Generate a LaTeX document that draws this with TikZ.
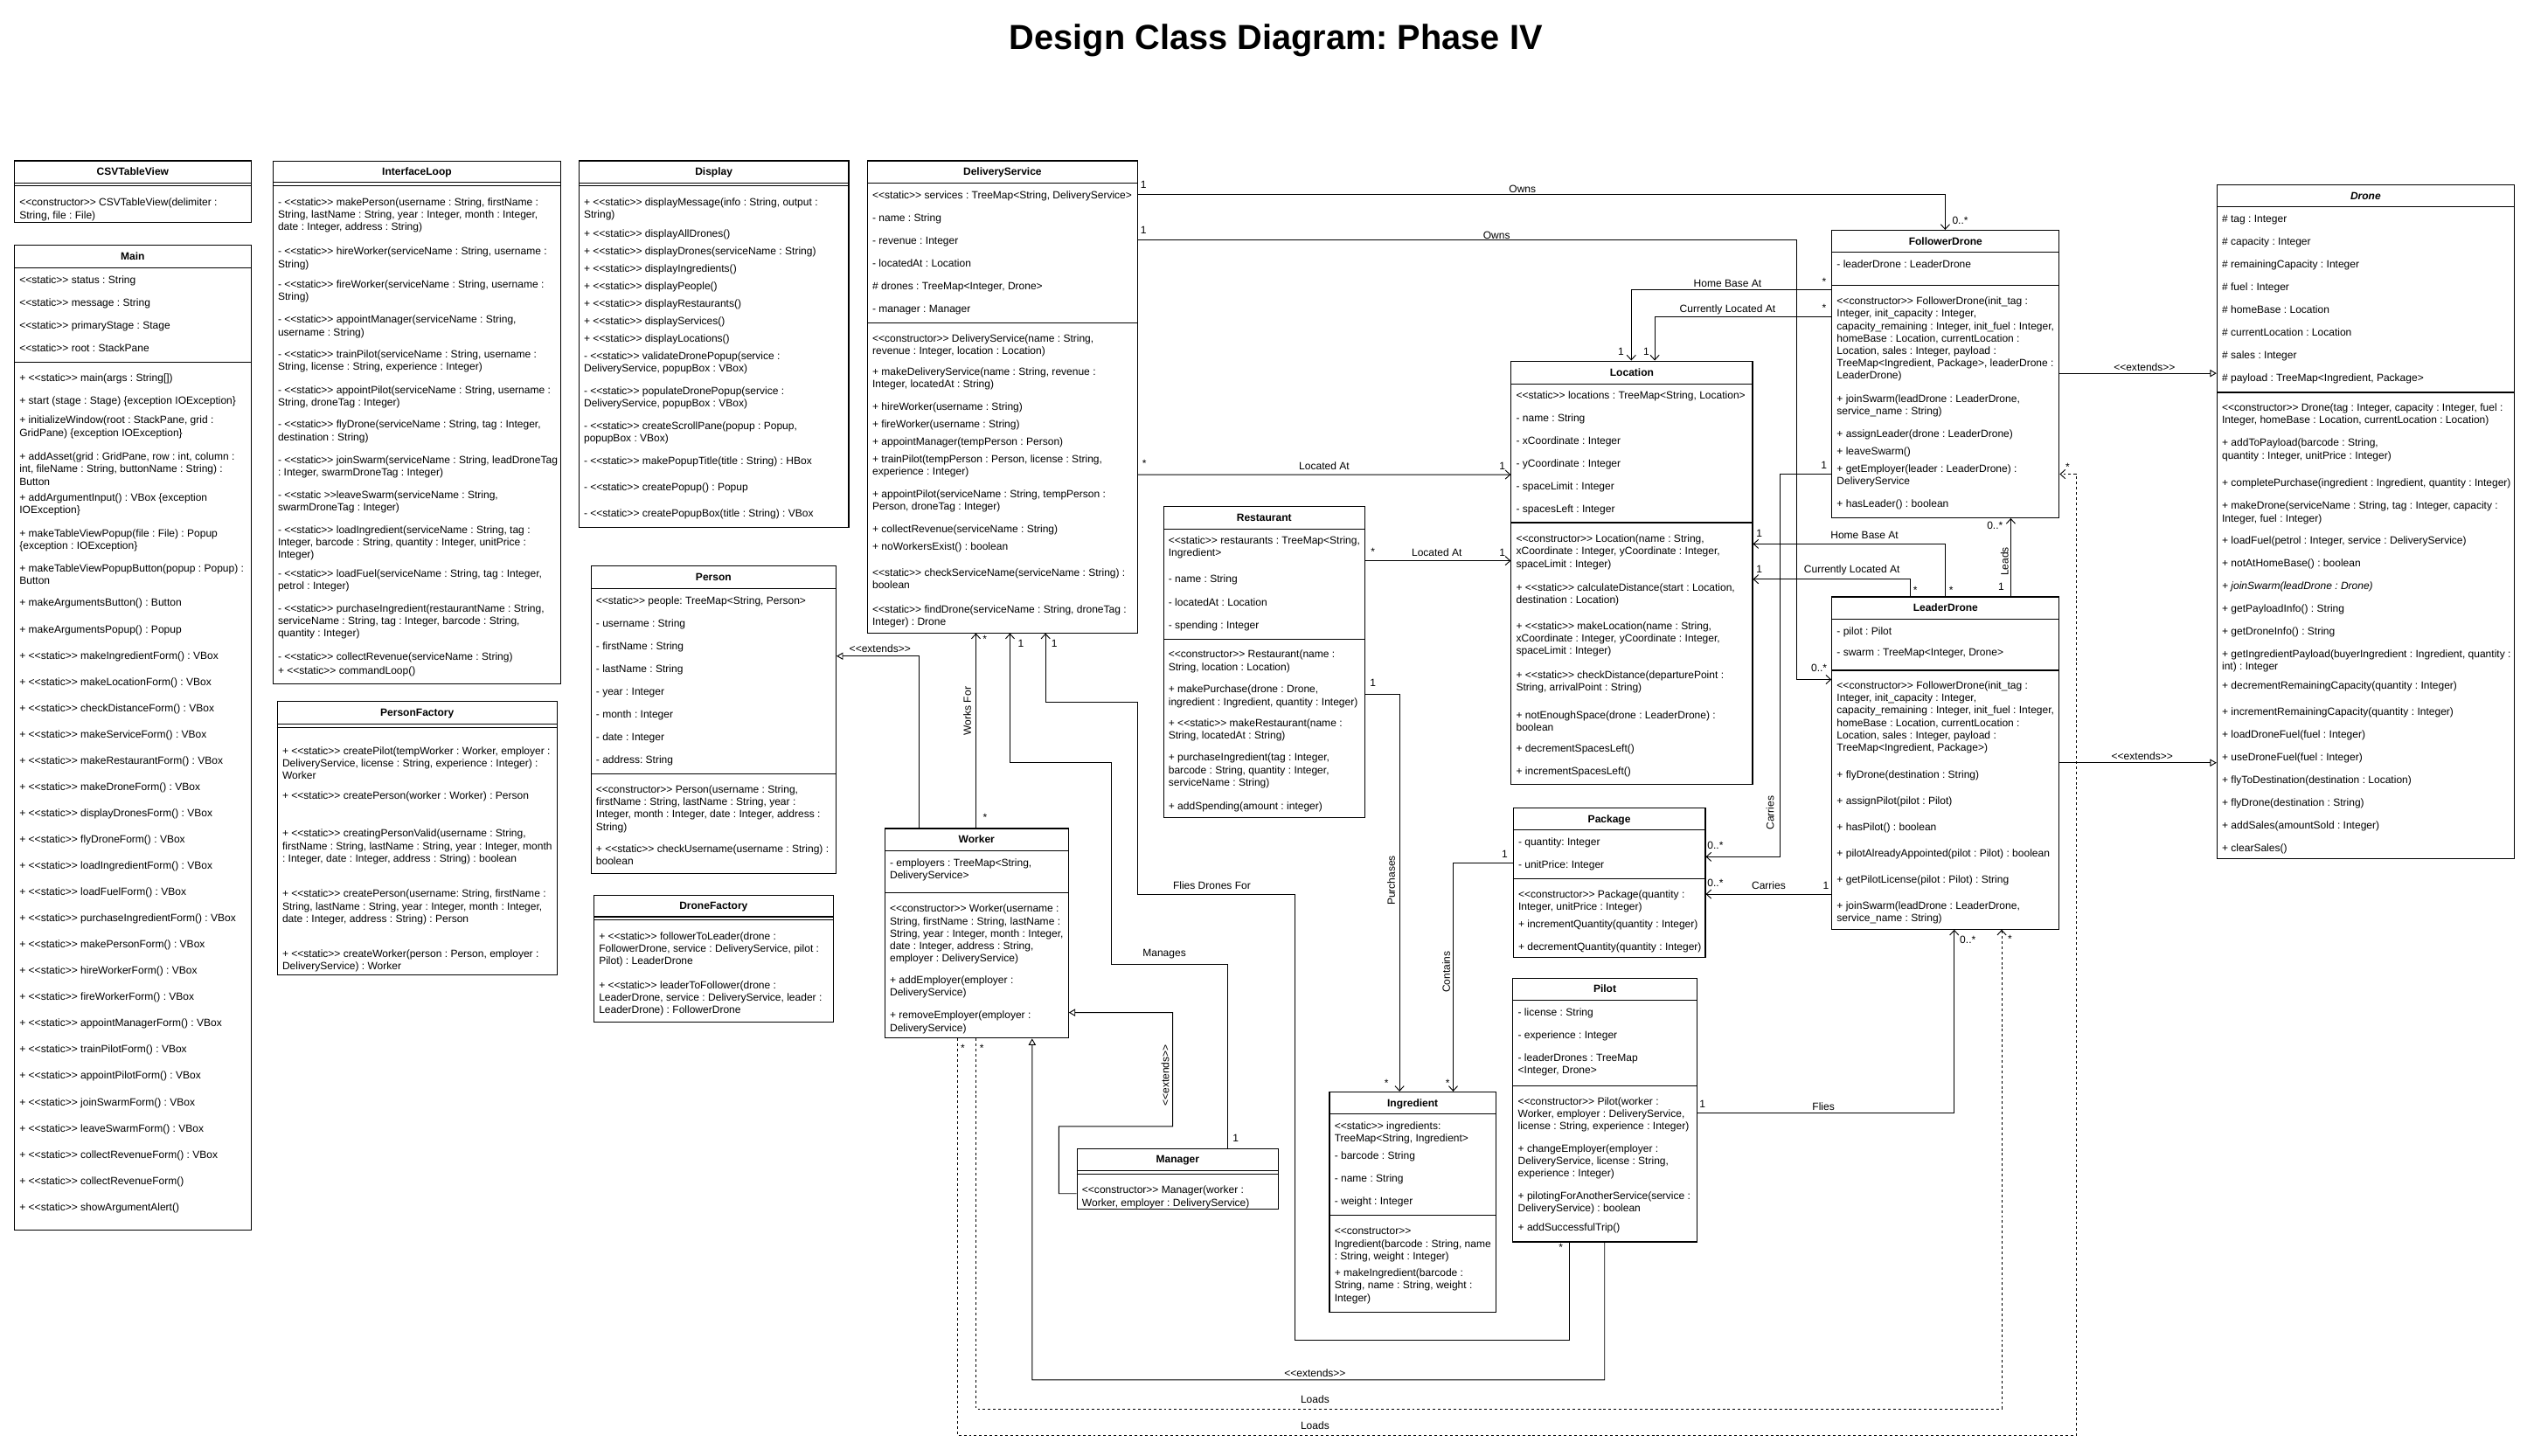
\documentclass[tikz,border=0pt]{standalone}
\usepackage{fontspec}
\setmainfont{Liberation Sans}[Ligatures=TeXOff]
\usepackage{tikz}
\usetikzlibrary{arrows.meta, positioning}
\frenchspacing
\newcommand{\umlfont}{\fontsize{6.5}{7.7}\selectfont}
\tikzset{
    classbox/.style={rectangle, draw=black, line width=0.6pt, fill=white, anchor=north west, inner sep=0pt},
    classname/.style={font=\umlfont\bfseries, inner sep=0pt, text height=4.7pt, text depth=0pt},
    members/.style={anchor=north west, align=left, inner xsep=3.2pt, inner ysep=0pt, font=\umlfont},
    divider/.style={line width=0.6pt},
    assoc/.style={line width=0.5pt, -{Straight Barb[length=3pt, width=5.5pt]}},
    extends/.style={line width=0.5pt, -{Triangle[open, length=4pt, width=4.5pt]}},
    loads/.style={assoc, dash pattern=on 1.6pt off 1.6pt},
    edgelabel/.style={font=\umlfont, inner sep=0.5pt}
}
\begin{document}
\begin{tikzpicture}[x=1pt, y=-1pt]
    \useasboundingbox (0,0) rectangle (1563.5,901);

    \node[font=\fontsize{21.5}{25}\selectfont\bfseries] (title) at (789.5,25) {Design Class Diagram: Phase IV};

    % CSVTableView
    \node[classbox, minimum width=146.3pt, minimum height=38pt] (csv) at (8.7,99.2) {};
    \draw[divider] ([yshift=-13.9pt]csv.north west) -- ([yshift=-13.9pt]csv.north east);
    \draw[divider] ([yshift=-15.8pt]csv.north west) -- ([yshift=-15.8pt]csv.north east);
    \node[classname] (csv-name) at ([yshift=-6.95pt]csv.north) {CSVTableView};
    \node[members] (csv-ops) at ([yshift=-22.8pt]csv.north west) {\strut<<constructor>> CSVTableView(delimiter :\\String, file : File)};

    % Main
    \node[classbox, minimum width=146.3pt, minimum height=609.3pt] (main) at (8.7,151.5) {};
    \draw[divider] ([yshift=-14.4pt]main.north west) -- ([yshift=-14.4pt]main.north east);
    \draw[divider] ([yshift=-72.5pt]main.north west) -- ([yshift=-72.5pt]main.north east);
    \node[classname] (main-name) at ([yshift=-7.2pt]main.north) {Main};
    \node[members] (main-attr) at ([yshift=-18.5pt]main.north west) {\strut<<static>> status : String\\[6.3pt]<<static>> message : String\\[6.3pt]<<static>> primaryStage : Stage\\[6.3pt]<<static>> root : StackPane};
    \node[members] (main-ops) at ([yshift=-79.1pt]main.north west) {\strut+ <<static>> main(args : String[])\\[6.3pt]
        + start (stage : Stage) \{exception IOException\}\\[4.4pt]
        + initializeWindow(root : StackPane, grid :\\GridPane) \{exception IOException\}\\[7.1pt]
        + addAsset(grid : GridPane, row : int, column :\\int, fileName : String, buttonName : String) :\\Button\\[2.4pt]
        + addArgumentInput() : VBox \{exception\\IOException\}\\[6.6pt]
        + makeTableViewPopup(file : File) : Popup\\\{exception : IOException\}\\[6.2pt]
        + makeTableViewPopupButton(popup : Popup) :\\Button\\[5.9pt]
        + makeArgumentsButton() : Button\\[8.9pt]
        + makeArgumentsPopup() : Popup\\[8.4pt]
        + <<static>> makeIngredientForm() : VBox\\[8.55pt]
        + <<static>> makeLocationForm() : VBox\\[8.55pt]
        + <<static>> checkDistanceForm() : VBox\\[8.55pt]
        + <<static>> makeServiceForm() : VBox\\[8.55pt]
        + <<static>> makeRestaurantForm() : VBox\\[8.55pt]
        + <<static>> makeDroneForm() : VBox\\[8.55pt]
        + <<static>> displayDronesForm() : VBox\\[8.55pt]
        + <<static>> flyDroneForm() : VBox\\[8.55pt]
        + <<static>> loadIngredientForm() : VBox\\[8.55pt]
        + <<static>> loadFuelForm() : VBox\\[8.55pt]
        + <<static>> purchaseIngredientForm() : VBox\\[8.55pt]
        + <<static>> makePersonForm() : VBox\\[8.55pt]
        + <<static>> hireWorkerForm() : VBox\\[8.55pt]
        + <<static>> fireWorkerForm() : VBox\\[8.55pt]
        + <<static>> appointManagerForm() : VBox\\[8.55pt]
        + <<static>> trainPilotForm() : VBox\\[8.55pt]
        + <<static>> appointPilotForm() : VBox\\[8.55pt]
        + <<static>> joinSwarmForm() : VBox\\[8.55pt]
        + <<static>> leaveSwarmForm() : VBox\\[8.55pt]
        + <<static>> collectRevenueForm() : VBox\\[8.55pt]
        + <<static>> collectRevenueForm()\\[8.55pt]
        + <<static>> showArgumentAlert()};

    % InterfaceLoop
    \node[classbox, minimum width=178.1pt, minimum height=323.3pt] (iloop) at (168.6,99.4) {};
    \draw[divider] ([yshift=-13.6pt]iloop.north west) -- ([yshift=-13.6pt]iloop.north east);
    \draw[divider] ([yshift=-15.5pt]iloop.north west) -- ([yshift=-15.5pt]iloop.north east);
    \node[classname] (iloop-name) at ([yshift=-6.8pt]iloop.north) {InterfaceLoop};
    \node[members] (iloop-ops) at ([yshift=-22.2pt]iloop.north west) {\strut- <<static>> makePerson(username : String, firstName :\\String, lastName : String, year : Integer, month : Integer,\\date : Integer, address : String)\\[7.5pt]
        - <<static>> hireWorker(serviceName : String, username :\\String)\\[5.1pt]
        - <<static>> fireWorker(serviceName : String, username :\\String)\\[6.4pt]
        - <<static>> appointManager(serviceName : String,\\username : String)\\[6pt]
        - <<static>> trainPilot(serviceName : String, username :\\String, license : String, experience : Integer)\\[6.5pt]
        - <<static>> appointPilot(serviceName : String, username :\\String, droneTag : Integer)\\[6.2pt]
        - <<static>> flyDrone(serviceName : String, tag : Integer,\\destination : String)\\[6.5pt]
        - <<static>> joinSwarm(serviceName : String, leadDroneTag\\: Integer, swarmDroneTag : Integer)\\[6.2pt]
        - <<static >>leaveSwarm(serviceName : String,\\swarmDroneTag : Integer)\\[6.2pt]
        - <<static>> loadIngredient(serviceName : String, tag :\\Integer, barcode : String, quantity : Integer, unitPrice :\\Integer)\\[4.1pt]
        - <<static>> loadFuel(serviceName : String, tag : Integer,\\petrol : Integer)\\[5.9pt]
        - <<static>> purchaseIngredient(restaurantName : String,\\serviceName : String, tag : Integer, barcode : String,\\quantity : Integer)\\[6.9pt]
        - <<static>> collectRevenue(serviceName : String)\\[0.9pt]
        + <<static>> commandLoop()};

    % PersonFactory
    \node[classbox, minimum width=173pt, minimum height=169.5pt] (pfact) at (171.3,433.5) {};
    \draw[divider] ([yshift=-14.7pt]pfact.north west) -- ([yshift=-14.7pt]pfact.north east);
    \draw[divider] ([yshift=-16.6pt]pfact.north west) -- ([yshift=-16.6pt]pfact.north east);
    \node[classname] (pfact-name) at ([yshift=-7.35pt]pfact.north) {PersonFactory};
    \node[members] (pfact-ops) at ([yshift=-27.9pt]pfact.north west) {\strut+ <<static>> createPilot(tempWorker : Worker, employer :\\DeliveryService, license : String, experience : Integer) :\\Worker\\[4.4pt]
        + <<static>> createPerson(worker : Worker) : Person\\[15.9pt]
        + <<static>> creatingPersonValid(username : String,\\firstName : String, lastName : String, year : Integer, month\\: Integer, date : Integer, address : String) : boolean\\[14.1pt]
        + <<static>> createPerson(username: String, firstName :\\String, lastName : String, year : Integer, month : Integer,\\date : Integer, address : String) : Person\\[14.2pt]
        + <<static>> createWorker(person : Person, employer :\\DeliveryService) : Worker};

    % Display
    \node[classbox, minimum width=166.9pt, minimum height=227.1pt] (disp) at (357.9,99.2) {};
    \draw[divider] ([yshift=-14pt]disp.north west) -- ([yshift=-14pt]disp.north east);
    \draw[divider] ([yshift=-15.9pt]disp.north west) -- ([yshift=-15.9pt]disp.north east);
    \node[classname] (disp-name) at ([yshift=-7pt]disp.north) {Display};
    \node[members] (disp-ops) at ([yshift=-22.7pt]disp.north west) {\strut+ <<static>> displayMessage(info : String, output :\\String)\\[3.9pt]
        + <<static>> displayAllDrones()\\[3.1pt]
        + <<static>> displayDrones(serviceName : String)\\[3.2pt]
        + <<static>> displayIngredients()\\[3.1pt]
        + <<static>> displayPeople()\\[3.1pt]
        + <<static>> displayRestaurants()\\[3.1pt]
        + <<static>> displayServices()\\[3.3pt]
        + <<static>> displayLocations()\\[3pt]
        - <<static>> validateDronePopup(service :\\DeliveryService, popupBox : VBox)\\[6.2pt]
        - <<static>> populateDronePopup(service :\\DeliveryService, popupBox : VBox)\\[6.2pt]
        - <<static>> createScrollPane(popup : Popup,\\popupBox : VBox)\\[6.2pt]
        - <<static>> makePopupTitle(title : String) : HBox\\[8.6pt]
        - <<static>> createPopup() : Popup\\[8.5pt]
        - <<static>> createPopupBox(title : String) : VBox};

    % Person
    \node[classbox, minimum width=151.6pt, minimum height=190.2pt] (per) at (365.4,350) {};
    \draw[divider] ([yshift=-14.3pt]per.north west) -- ([yshift=-14.3pt]per.north east);
    \draw[divider] ([yshift=-128.9pt]per.north west) -- ([yshift=-128.9pt]per.north east);
    \node[classname] (per-name) at ([yshift=-7.15pt]per.north) {Person};
    \node[members] (per-attr) at ([yshift=-18.6pt]per.north west) {\strut<<static>> people: TreeMap<String, Person>\\[6.3pt]- username : String\\[6.3pt]- firstName : String\\[6.3pt]- lastName : String\\[6.3pt]- year : Integer\\[6.3pt]- month : Integer\\[6.3pt]- date : Integer\\[6.3pt]- address: String};
    \node[members] (per-ops) at ([yshift=-135.1pt]per.north west) {\strut<<constructor>> Person(username : String,\\firstName : String, lastName : String, year :\\Integer, month : Integer, date : Integer, address :\\String)\\[5.9pt]
        + <<static>> checkUsername(username : String) :\\boolean};

    % DroneFactory
    \node[classbox, minimum width=148pt, minimum height=78.4pt] (dfact) at (367.2,553.6) {};
    \draw[divider] ([yshift=-13.7pt]dfact.north west) -- ([yshift=-13.7pt]dfact.north east);
    \draw[divider] ([yshift=-15.8pt]dfact.north west) -- ([yshift=-15.8pt]dfact.north east);
    \node[classname] (dfact-name) at ([yshift=-6.85pt]dfact.north) {DroneFactory};
    \node[members] (dfact-ops) at ([yshift=-22.3pt]dfact.north west) {\strut+ <<static>> followerToLeader(drone :\\FollowerDrone, service : DeliveryService, pilot :\\Pilot) : LeaderDrone\\[7.2pt]
        + <<static>> leaderToFollower(drone :\\LeaderDrone, service : DeliveryService, leader :\\LeaderDrone) : FollowerDrone};

    % DeliveryService
    \node[classbox, minimum width=167.1pt, minimum height=292.1pt] (ds) at (536.4,99.2) {};
    \draw[divider] ([yshift=-14pt]ds.north west) -- ([yshift=-14pt]ds.north east);
    \draw[divider] ([yshift=-100.4pt]ds.north west) -- ([yshift=-100.4pt]ds.north east);
    \node[classname] (ds-name) at ([yshift=-7pt]ds.north) {DeliveryService};
    \node[members] (ds-attr) at ([yshift=-18.2pt]ds.north west) {\strut<<static>> services : TreeMap<String, DeliveryService>\\[6.4pt]- name : String\\[6.4pt]- revenue : Integer\\[6.4pt]- locatedAt : Location\\[6.4pt]\# drones : TreeMap<Integer, Drone>\\[6.4pt]- manager : Manager};
    \node[members] (ds-ops) at ([yshift=-106.9pt]ds.north west) {\strut<<constructor>> DeliveryService(name : String,\\revenue : Integer, location : Location)\\[5.1pt]
        + makeDeliveryService(name : String, revenue :\\Integer, locatedAt : String)\\[6.4pt]
        + hireWorker(username : String)\\[2.9pt]
        + fireWorker(username : String)\\[3.2pt]
        + appointManager(tempPerson : Person)\\[3.2pt]
        + trainPilot(tempPerson : Person, license : String,\\experience : Integer)\\[6.1pt]
        + appointPilot(serviceName : String, tempPerson :\\Person, droneTag : Integer)\\[6.4pt]
        + collectRevenue(serviceName : String)\\[2.9pt]
        + noWorkersExist() : boolean\\[8.5pt]
        <<static>> checkServiceName(serviceName : String) :\\boolean\\[7.4pt]
        <<static>> findDrone(serviceName : String, droneTag :\\Integer) : Drone};

    % Restaurant
    \node[classbox, minimum width=124.5pt, minimum height=192.6pt] (rest) at (719.6,313) {};
    \draw[divider] ([yshift=-14.4pt]rest.north west) -- ([yshift=-14.4pt]rest.north east);
    \draw[divider] ([yshift=-82.4pt]rest.north west) -- ([yshift=-82.4pt]rest.north east);
    \node[classname] (rest-name) at ([yshift=-7.2pt]rest.north) {Restaurant};
    \node[members] (rest-attr) at ([yshift=-18.2pt]rest.north west) {\strut<<static>> restaurants : TreeMap<String,\\Ingredient>\\[8.5pt]- name : String\\[6.5pt]- locatedAt : Location\\[6.3pt]- spending : Integer};
    \node[members] (rest-ops) at ([yshift=-88.6pt]rest.north west) {\strut<<constructor>> Restaurant(name :\\String, location : Location)\\[6.2pt]
        + makePurchase(drone : Drone,\\ingredient : Ingredient, quantity : Integer)\\[5.3pt]
        + <<static>> makeRestaurant(name :\\String, locatedAt : String)\\[6.1pt]
        + purchaseIngredient(tag : Integer,\\barcode : String, quantity : Integer,\\serviceName : String)\\[7.1pt]
        + addSpending(amount : integer)};

    % Worker
    \node[classbox, minimum width=113.5pt, minimum height=129.7pt] (wrk) at (547.2,512.4) {};
    \draw[divider] ([yshift=-14.2pt]wrk.north west) -- ([yshift=-14.2pt]wrk.north east);
    \draw[divider] ([yshift=-40.1pt]wrk.north west) -- ([yshift=-40.1pt]wrk.north east);
    \node[classname] (wrk-name) at ([yshift=-7.1pt]wrk.north) {Worker};
    \node[members] (wrk-attr) at ([yshift=-18.3pt]wrk.north west) {\strut- employers : TreeMap<String,\\DeliveryService>};
    \node[members] (wrk-ops) at ([yshift=-46.5pt]wrk.north west) {\strut<<constructor>> Worker(username :\\String, firstName : String, lastName :\\String, year : Integer, month : Integer,\\date : Integer, address : String,\\employer : DeliveryService)\\[5.7pt]
        + addEmployer(employer :\\DeliveryService)\\[6.4pt]
        + removeEmployer(employer :\\DeliveryService)};

    % Manager
    \node[classbox, minimum width=124.5pt, minimum height=37.6pt] (mgr) at (666.1,710.4) {};
    \draw[divider] ([yshift=-14pt]mgr.north west) -- ([yshift=-14pt]mgr.north east);
    \draw[divider] ([yshift=-16.2pt]mgr.north west) -- ([yshift=-16.2pt]mgr.north east);
    \node[classname] (mgr-name) at ([yshift=-7pt]mgr.north) {Manager};
    \node[members] (mgr-ops) at ([yshift=-22.7pt]mgr.north west) {\strut<<constructor>> Manager(worker :\\Worker, employer : DeliveryService)};

    % Location
    \node[classbox, minimum width=149.3pt, minimum height=261.9pt] (loc) at (934.7,223.1) {};
    \draw[divider] ([yshift=-14.4pt]loc.north west) -- ([yshift=-14.4pt]loc.north east);
    \draw[divider] ([yshift=-100.3pt]loc.north west) -- ([yshift=-100.3pt]loc.north east);
    \node[classname] (loc-name) at ([yshift=-7.2pt]loc.north) {Location};
    \node[members] (loc-attr) at ([yshift=-18.3pt]loc.north west) {\strut<<static>> locations : TreeMap<String, Location>\\[6.3pt]- name : String\\[6.3pt]- xCoordinate : Integer\\[6.3pt]- yCoordinate : Integer\\[6.3pt]- spaceLimit : Integer\\[6.3pt]- spacesLeft : Integer};
    \node[members] (loc-ops) at ([yshift=-107pt]loc.north west) {\strut<<constructor>> Location(name : String,\\xCoordinate : Integer, yCoordinate : Integer,\\spaceLimit : Integer)\\[7.2pt]
        + <<static>> calculateDistance(start : Location,\\destination : Location)\\[8.2pt]
        + <<static>> makeLocation(name : String,\\xCoordinate : Integer, yCoordinate : Integer,\\spaceLimit : Integer)\\[7.2pt]
        + <<static>> checkDistance(departurePoint :\\String, arrivalPoint : String)\\[9.4pt]
        + notEnoughSpace(drone : LeaderDrone) :\\boolean\\[5.2pt]
        + decrementSpacesLeft()\\[6.4pt]
        + incrementSpacesLeft()};

    % Package
    \node[classbox, minimum width=118.8pt, minimum height=92.6pt] (pkg) at (936,499.7) {};
    \draw[divider] ([yshift=-13.9pt]pkg.north west) -- ([yshift=-13.9pt]pkg.north east);
    \draw[divider] ([yshift=-44.2pt]pkg.north west) -- ([yshift=-44.2pt]pkg.north east);
    \node[classname] (pkg-name) at ([yshift=-6.95pt]pkg.north) {Package};
    \node[members] (pkg-attr) at ([yshift=-18.1pt]pkg.north west) {\strut- quantity: Integer\\[6.2pt]- unitPrice: Integer};
    \node[members] (pkg-ops) at ([yshift=-50.4pt]pkg.north west) {\strut<<constructor>> Package(quantity :\\Integer, unitPrice : Integer)\\[2.9pt]
        + incrementQuantity(quantity : Integer)\\[6.2pt]
        + decrementQuantity(quantity : Integer)};

    % Pilot
    \node[classbox, minimum width=113.7pt, minimum height=163.2pt] (pil) at (935.8,605) {};
    \draw[divider] ([yshift=-14pt]pil.north west) -- ([yshift=-14pt]pil.north east);
    \draw[divider] ([yshift=-67pt]pil.north west) -- ([yshift=-67pt]pil.north east);
    \node[classname] (pil-name) at ([yshift=-7pt]pil.north) {Pilot};
    \node[members] (pil-attr) at ([yshift=-18.2pt]pil.north west) {\strut- license : String\\[6.4pt]- experience : Integer\\[6.2pt]- leaderDrones : TreeMap\\<Integer, Drone>};
    \node[members] (pil-ops) at ([yshift=-73.2pt]pil.north west) {\strut<<constructor>> Pilot(worker :\\Worker, employer : DeliveryService,\\license : String, experience : Integer)\\[6.1pt]
        + changeEmployer(employer :\\DeliveryService, license : String,\\experience : Integer)\\[6.1pt]
        + pilotingForAnotherService(service :\\DeliveryService) : boolean\\[4.3pt]
        + addSuccessfulTrip()};

    % Ingredient
    \node[classbox, minimum width=102.9pt, minimum height=136.1pt] (ingr) at (822.3,675.4) {};
    \draw[divider] ([yshift=-14pt]ingr.north west) -- ([yshift=-14pt]ingr.north east);
    \draw[divider] ([yshift=-76.7pt]ingr.north west) -- ([yshift=-76.7pt]ingr.north east);
    \node[classname] (ingr-name) at ([yshift=-7pt]ingr.north) {Ingredient};
    \node[members] (ingr-attr) at ([yshift=-18pt]ingr.north west) {\strut<<static>> ingredients:\\TreeMap<String, Ingredient>\\[3.2pt]- barcode : String\\[6.2pt]- name : String\\[6.3pt]- weight : Integer};
    \node[members] (ingr-ops) at ([yshift=-83.1pt]ingr.north west) {\strut<<constructor>>\\Ingredient(barcode : String, name\\: String, weight : Integer)\\[2.7pt]
        + makeIngredient(barcode :\\String, name : String, weight :\\Integer)};

    % FollowerDrone
    \node[classbox, minimum width=140.7pt, minimum height=177.9pt] (fd) at (1133.1,142.2) {};
    \draw[divider] ([yshift=-13.9pt]fd.north west) -- ([yshift=-13.9pt]fd.north east);
    \draw[divider] ([yshift=-34.4pt]fd.north west) -- ([yshift=-34.4pt]fd.north east);
    \node[classname] (fd-name) at ([yshift=-6.95pt]fd.north) {FollowerDrone};
    \node[members] (fd-attr) at ([yshift=-17.8pt]fd.north west) {\strut- leaderDrone : LeaderDrone};
    \node[members] (fd-ops) at ([yshift=-40.7pt]fd.north west) {\strut<<constructor>> FollowerDrone(init\_tag :\\Integer, init\_capacity : Integer,\\capacity\_remaining : Integer, init\_fuel : Integer,\\homeBase : Location, currentLocation :\\Location, sales : Integer, payload :\\TreeMap<Ingredient, Package>, leaderDrone :\\LeaderDrone)\\[6.4pt]
        + joinSwarm(leadDrone : LeaderDrone,\\service\_name : String)\\[6.3pt]
        + assignLeader(drone : LeaderDrone)\\[3.2pt]
        + leaveSwarm()\\[3.2pt]
        + getEmployer(leader : LeaderDrone) :\\DeliveryService\\[6pt]
        + hasLeader() : boolean};

    % LeaderDrone
    \node[classbox, minimum width=140.7pt, minimum height=205.6pt] (ld) at (1133.1,369.1) {};
    \draw[divider] ([yshift=-14pt]ld.north west) -- ([yshift=-14pt]ld.north east);
    \draw[divider] ([yshift=-45.7pt]ld.north west) -- ([yshift=-45.7pt]ld.north east);
    \node[classname] (ld-name) at ([yshift=-7pt]ld.north) {LeaderDrone};
    \node[members] (ld-attr) at ([yshift=-18.2pt]ld.north west) {\strut- pilot : Pilot\\[5.3pt]- swarm : TreeMap<Integer, Drone>};
    \node[members] (ld-ops) at ([yshift=-51.7pt]ld.north west) {\strut<<constructor>> FollowerDrone(init\_tag :\\Integer, init\_capacity : Integer,\\capacity\_remaining : Integer, init\_fuel : Integer,\\homeBase : Location, currentLocation :\\Location, sales : Integer, payload :\\TreeMap<Ingredient, Package>)\\[9.1pt]
        + flyDrone(destination : String)\\[8.4pt]
        + assignPilot(pilot : Pilot)\\[8.4pt]
        + hasPilot() : boolean\\[8.5pt]
        + pilotAlreadyAppointed(pilot : Pilot) : boolean\\[8.7pt]
        + getPilotLicense(pilot : Pilot) : String\\[8.5pt]
        + joinSwarm(leadDrone : LeaderDrone,\\service\_name : String)};

    % Drone
    \node[classbox, minimum width=183.9pt, minimum height=417pt] (drn) at (1371.4,114.2) {};
    \draw[divider] ([yshift=-13.8pt]drn.north west) -- ([yshift=-13.8pt]drn.north east);
    \draw[divider] ([yshift=-128.6pt]drn.north west) -- ([yshift=-128.6pt]drn.north east);
    \node[classname] (drn-name) at ([yshift=-6.9pt]drn.north) {\textit{Drone}};
    \node[members] (drn-attr) at ([yshift=-17.7pt]drn.north west) {\strut\# tag : Integer\\[6.37pt]\# capacity : Integer\\[6.37pt]\# remainingCapacity : Integer\\[6.37pt]\# fuel : Integer\\[6.37pt]\# homeBase : Location\\[6.37pt]\# currentLocation : Location\\[6.37pt]\# sales : Integer\\[6.37pt]\# payload : TreeMap<Ingredient, Package>};
    \node[members] (drn-ops) at ([yshift=-134.7pt]drn.north west) {\strut<<constructor>> Drone(tag : Integer, capacity : Integer, fuel :\\Integer, homeBase : Location, currentLocation : Location)\\[6.4pt]
        + addToPayload(barcode : String,\\quantity : Integer, unitPrice : Integer)\\[9.4pt]
        + completePurchase(ingredient : Ingredient, quantity : Integer)\\[6.5pt]
        + makeDrone(serviceName : String, tag : Integer, capacity :\\Integer, fuel : Integer)\\[6.1pt]
        + loadFuel(petrol : Integer, service : DeliveryService)\\[6.1pt]
        + notAtHomeBase() : boolean\\[6.3pt]
        \textit{+ joinSwarm(leadDrone : Drone)}\\[6.4pt]
        + getPayloadInfo() : String\\[6.4pt]
        + getDroneInfo() : String\\[6.3pt]
        + getIngredientPayload(buyerIngredient : Ingredient, quantity :\\int) : Integer\\[4pt]
        + decrementRemainingCapacity(quantity : Integer)\\[8.6pt]
        + incrementRemainingCapacity(quantity : Integer)\\[6.3pt]
        + loadDroneFuel(fuel : Integer)\\[6.7pt]
        + useDroneFuel(fuel : Integer)\\[6pt]
        + flyToDestination(destination : Location)\\[6.4pt]
        + flyDrone(destination : String)\\[6.4pt]
        + addSales(amountSold : Integer)\\[6.4pt]
        + clearSales()};

    % bend points
    \coordinate (mgbend1) at (687.7,596.9);
    \coordinate (mgbend2) at (624.9,471.8);
    \coordinate (flbend1) at (801.3,829.3);
    \coordinate (flbend2) at (703.9,553.3);
    \coordinate (flbend3) at (646.9,434.7);
    \coordinate (exbend) at (638.6,853.9);
    \coordinate (mxbend1) at (655.1,697);
    \coordinate (mxbend2) at (725.6,626.6);
    \coordinate (ldbend) at (1238.5,872);
    \coordinate (fdbend) at (1284.6,888.3);

    % associations
    \draw[assoc] ([yshift=-21.2pt]ds.north east) -| ([xshift=70.4pt]fd.north west);
    \draw[assoc] ([yshift=-49.4pt]ds.north east) -| ([xshift=-21.4pt, yshift=-51.4pt]ld.north west) -- ([yshift=-51.4pt]ld.north west);
    \draw[assoc] ([yshift=-37.2pt]fd.north west) -| ([xshift=74.6pt]loc.north west);
    \draw[assoc] ([yshift=-53.7pt]fd.north west) -| ([xshift=89.1pt]loc.north west);
    \draw[assoc] ([yshift=-151.2pt]fd.north west) -| ([xshift=46pt, yshift=-30.5pt]pkg.north east) -- ([yshift=-30.5pt]pkg.north east);
    \draw[assoc] ([xshift=70.4pt]ld.north west) |- ([yshift=-113.5pt]loc.north east);
    \draw[assoc] ([xshift=49pt]ld.north west) |- ([yshift=-135.3pt]loc.north east);
    \draw[assoc] ([xshift=111pt]ld.north west) -- ([xshift=111pt]fd.south west);
    \draw[assoc] ([yshift=-184.2pt]ld.north west) -- ([yshift=-53.6pt]pkg.north east);
    \draw[assoc] ([yshift=-194.5pt]ds.north east) -- ([yshift=-70.6pt]loc.north west);
    \draw[assoc] ([yshift=-34pt]rest.north east) -- ([yshift=-123.9pt]loc.north west);
    \draw[assoc] ([yshift=-116.9pt]rest.north east) -| ([xshift=43.6pt]ingr.north west);
    \draw[assoc] ([yshift=-34.6pt]pkg.north west) -| ([xshift=76.8pt]ingr.north west);
    \draw[assoc] ([xshift=56.6pt]wrk.north west) -- ([xshift=67.4pt]ds.south west);
    \draw[assoc] ([xshift=93.4pt]mgr.north west) |- (mgbend1) |- (mgbend2) -- ([xshift=88.5pt]ds.south west);
    \draw[assoc] ([xshift=35pt]pil.south west) |- (flbend1) |- (flbend2) |- (flbend3) -- ([xshift=110.5pt]ds.south west);
    \draw[assoc] ([yshift=-83.6pt]pil.north east) -| ([xshift=76pt]ld.south west);
    \draw[loads] ([xshift=56.6pt]wrk.south west) |- (ldbend) -- ([xshift=105.4pt]ld.south west);
    \draw[loads] ([xshift=45.1pt]wrk.south west) |- (fdbend) |- ([yshift=-151.2pt]fd.north east);

    % generalisations
    \draw[extends] ([yshift=-88.8pt]fd.north east) -- ([yshift=-116.8pt]drn.north west);
    \draw[extends] ([yshift=-102.9pt]ld.north east) -- ([yshift=-357.8pt]drn.north west);
    \draw[extends] ([xshift=21.4pt]wrk.north west) |- ([yshift=-56pt]per.north east);
    \draw[extends] ([xshift=57pt]pil.south west) |- (exbend) -- ([xshift=91.4pt]wrk.south west);
    \draw[extends] ([yshift=-28.2pt]mgr.north west) -| (mxbend1) -| (mxbend2) -- ([yshift=-114.2pt]wrk.north east);

    % connector labels
    \node[edgelabel] (owns1-a) at (707.5,114.1) {1};
    \node[edgelabel] (owns1-l) at (942,117) {Owns};
    \node[edgelabel] (owns1-b) at (1212.8,136.3) {0..*};
    \node[edgelabel] (owns2-a) at (707.5,142.7) {1};
    \node[edgelabel] (owns2-l) at (926,145.5) {Owns};
    \node[edgelabel] (owns2-b) at (1125.5,413.5) {0..*};
    \node[edgelabel] (fhome-l) at (1068.9,175.7) {Home Base At};
    \node[edgelabel] (fhome-a) at (1128.6,174.5) {*};
    \node[edgelabel] (fhome-b) at (1002.9,217.4) {1};
    \node[edgelabel] (fcur-l) at (1068.9,191.6) {Currently Located At};
    \node[edgelabel] (fcur-a) at (1128.6,190.5) {*};
    \node[edgelabel] (fcur-b) at (1018.6,217.4) {1};
    \node[edgelabel] (fcarry-a) at (1128.5,288.1) {1};
    \node[edgelabel, rotate=90] (fcarry-l) at (1095.2,503) {Carries};
    \node[edgelabel] (fcarry-b) at (1061.3,523.3) {0..*};
    \node[edgelabel] (lhome-l) at (1153.6,331.3) {Home Base At};
    \node[edgelabel] (lhome-b) at (1088.5,330.3) {1};
    \node[edgelabel] (lhome-a) at (1207.2,365.5) {*};
    \node[edgelabel] (lcur-l) at (1145.8,353) {Currently Located At};
    \node[edgelabel] (lcur-b) at (1088.5,352.2) {1};
    \node[edgelabel] (lcur-a) at (1185,365.5) {*};
    \node[edgelabel, rotate=90] (leads-l) at (1240.2,347.4) {Leads};
    \node[edgelabel] (leads-a) at (1238.2,362.9) {1};
    \node[edgelabel] (leads-b) at (1234.3,325) {0..*};
    \node[edgelabel] (lcarry-l) at (1094.3,548) {Carries};
    \node[edgelabel] (lcarry-a) at (1129.8,548) {1};
    \node[edgelabel] (lcarry-b) at (1061.3,546.3) {0..*};
    \node[edgelabel] (fext-l) at (1326.8,227.4) {<<extends>>};
    \node[edgelabel] (lext-l) at (1325.4,468) {<<extends>>};
    \node[edgelabel] (dsloc-a) at (708,287) {*};
    \node[edgelabel] (dsloc-l) at (819.3,288.5) {Located At};
    \node[edgelabel] (dsloc-b) at (929.5,288.5) {1};
    \node[edgelabel] (rloc-a) at (849.4,341.7) {*};
    \node[edgelabel] (rloc-l) at (889,342) {Located At};
    \node[edgelabel] (rloc-b) at (929.5,342) {1};
    \node[edgelabel] (purch-a) at (849.4,422.7) {1};
    \node[edgelabel, rotate=90] (purch-l) at (860.8,544.9) {Purchases};
    \node[edgelabel] (purch-b) at (857.8,670.5) {*};
    \node[edgelabel] (cont-a) at (931,528.4) {1};
    \node[edgelabel, rotate=90] (cont-l) at (894.8,601.5) {Contains};
    \node[edgelabel] (cont-b) at (895.7,670.5) {*};
    \node[edgelabel, rotate=90] (works-l) at (598.5,440) {Works For};
    \node[edgelabel] (works-b) at (609.3,395.5) {*};
    \node[edgelabel] (works-a) at (609.5,506) {*};
    \node[edgelabel] (pext-l) at (544.5,401.5) {<<extends>>};
    \node[edgelabel] (manage-l) at (720.4,590.6) {Manages};
    \node[edgelabel] (manage-a) at (764.6,704.1) {1};
    \node[edgelabel] (manage-b) at (631.7,398.3) {1};
    \node[edgelabel] (fdfor-l) at (749.8,548.2) {Flies Drones For};
    \node[edgelabel] (fdfor-a) at (965.7,772) {*};
    \node[edgelabel] (fdfor-b) at (652.4,398.3) {1};
    \node[edgelabel] (wext-l) at (813.6,849.5) {<<extends>>};
    \node[edgelabel, rotate=90] (mext-l) at (721,665.5) {<<extends>>};
    \node[edgelabel] (flies-a) at (1053.4,683.4) {1};
    \node[edgelabel] (flies-l) at (1128.2,684.7) {Flies};
    \node[edgelabel] (flies-b) at (1217.5,581.8) {0..*};
    \node[edgelabel] (loadl-a) at (607.4,648.5) {*};
    \node[edgelabel] (loadl-l) at (813.6,866.1) {Loads};
    \node[edgelabel] (loadl-b) at (1243.6,581) {*};
    \node[edgelabel] (loadf-a) at (595.7,648.5) {*};
    \node[edgelabel] (loadf-l) at (813.6,882.1) {Loads};
    \node[edgelabel] (loadf-b) at (1279.3,289) {*};
\end{tikzpicture}
\end{document}
